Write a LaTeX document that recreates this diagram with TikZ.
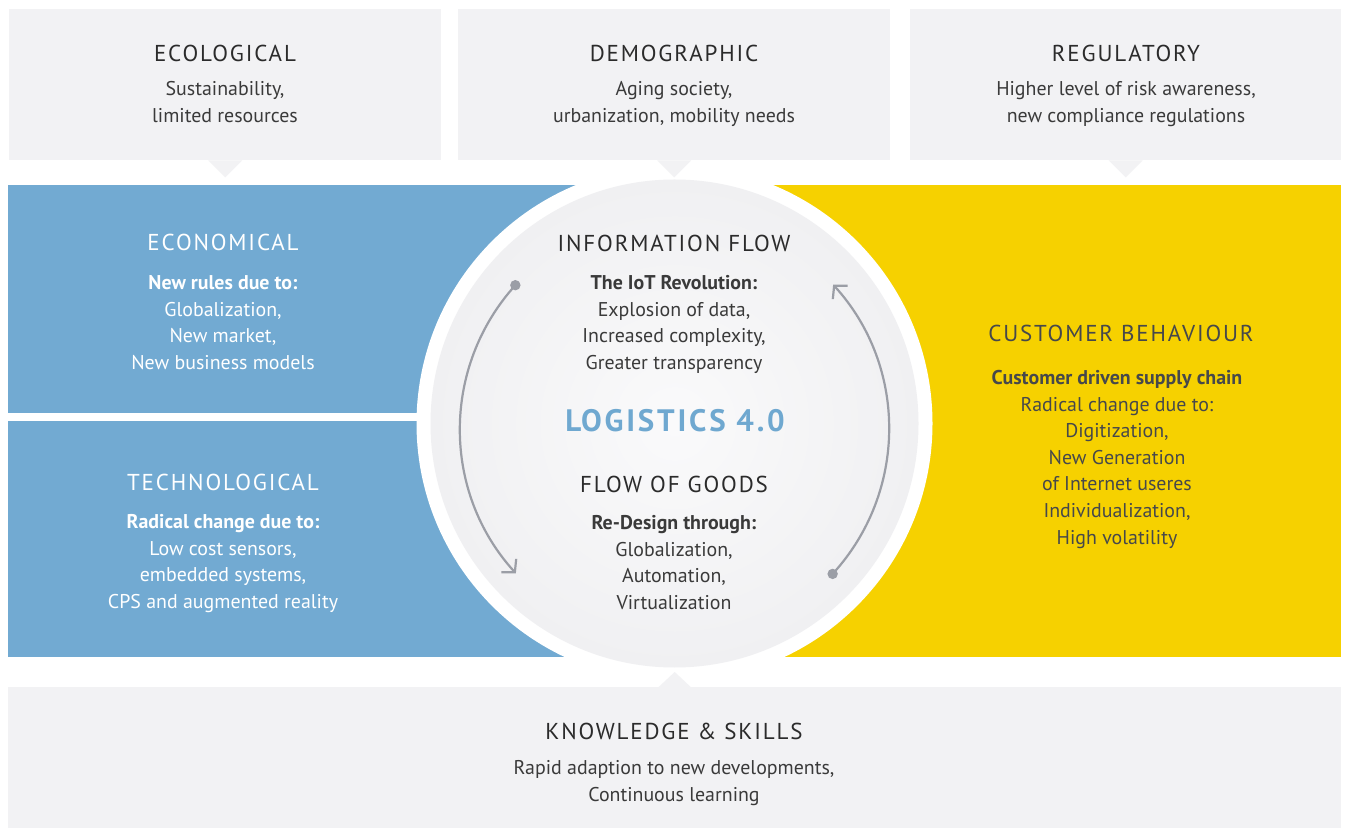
\documentclass[tikz,border=0pt]{standalone}
\usepackage{fontspec}
\setmainfont{PT Sans}
\newfontfamily\ttlfont[LetterSpace=8]{PT Sans}
\newfontfamily\logofont[LetterSpace=9]{PT Sans}
\usetikzlibrary{arrows.meta}

\definecolor{boxgray}{HTML}{F2F2F4}
\definecolor{econblue}{HTML}{72AAD2}
\definecolor{custyellow}{HTML}{F6D100}
\definecolor{logoblue}{HTML}{6FA8D0}
\definecolor{arcgray}{HTML}{9B9EA6}
\definecolor{titlegray}{HTML}{2B2B2B}
\definecolor{bodygray}{HTML}{3A3A3A}
\definecolor{yellowtext}{HTML}{46484B}
\definecolor{circlemid}{HTML}{FAFAFB}
\definecolor{circleedge}{HTML}{F0F0F2}

\tikzset{
  panel/.style={fill=#1, draw=none, inner sep=0pt, anchor=north west},
  ttl/.style={font=\ttlfont\fontsize{23}{28}\selectfont, text=titlegray, inner sep=0pt, anchor=base},
  % multi-line text blocks are placed by the baseline of their last line
  body/.style={font=\fontsize{19.9}{26.6}\selectfont, align=center, text=bodygray, inner sep=0pt, anchor=base},
  flowarc/.style={draw=arcgray, line width=2.2pt, line cap=round},
}

\begin{document}
\begin{tikzpicture}[x=1pt, y=1pt]
\useasboundingbox (0,0) rectangle (1347,828);
\fill[white] (0,0) rectangle (1347,828);

% top row of influence boxes
\node[panel=boxgray, minimum width=432pt, minimum height=151pt] (eco)  at (9,819)   {};
\node[panel=boxgray, minimum width=432pt, minimum height=151pt] (demo) at (458,819) {};
\node[panel=boxgray, minimum width=431pt, minimum height=151pt] (reg)  at (910,819) {};

% side panels
\node[panel=econblue,   minimum width=667pt, minimum height=228pt] (econ) at (8,643)   {};
\node[panel=econblue,   minimum width=667pt, minimum height=236pt] (tech) at (8,407)   {};
\node[panel=custyellow, minimum width=666pt, minimum height=472pt] (cust) at (675,643) {};

% bottom box
\node[panel=boxgray, minimum width=1333pt, minimum height=141pt] (know) at (8,141) {};

% central circle
\coordinate (ctr) at (674.5,404.5);
\fill[white] (ctr) circle[radius=258pt];
\shade[inner color=circlemid, outer color=circleedge] (ctr) circle[radius=244pt];

% pointers of the boxes towards the centre
\fill[boxgray] ([xshift=-17pt]eco.south)  -- ([xshift=17pt]eco.south)  -- ([yshift=-17pt]eco.south)  -- cycle;
\fill[boxgray] ([xshift=-17pt]demo.south) -- ([xshift=17pt]demo.south) -- ([yshift=-17pt]demo.south) -- cycle;
\fill[boxgray] ([xshift=-17pt]reg.south)  -- ([xshift=17pt]reg.south)  -- ([yshift=-17pt]reg.south)  -- cycle;
\fill[boxgray] ([xshift=-16pt]know.north) -- ([xshift=16pt]know.north) -- ([yshift=15pt]know.north) -- cycle;

% circular flow arrows
\coordinate (arcctr) at (674.5,399);
\coordinate (infostart)  at ([shift={(137.9:214.5pt)}]arcctr);
\coordinate (goodsstart) at ([shift={(-42.5:214.5pt)}]arcctr);
\draw[flowarc, -{Straight Barb[length=9pt, width=20pt, line width=2.2pt]}]
  (infostart) arc[start angle=137.9, end angle=222.3, radius=214.5pt];
\draw[flowarc, -{Straight Barb[length=9pt, width=20pt, line width=2.2pt]}]
  (goodsstart) arc[start angle=-42.5, end angle=42.3, radius=214.5pt];
\fill[arcgray] (infostart) circle[radius=5.2pt];
\fill[arcgray] (goodsstart) circle[radius=5.2pt];

% texts of the top row
\node[ttl] (ecoT) at (225,766.7) {ECOLOGICAL};
\node[body] (ecoB) at (225,705.9) {Sustainability,\\limited resources};
\node[ttl] (demoT) at (674,766.7) {DEMOGRAPHIC};
\node[body] (demoB) at (674,705.9) {Aging society,\\urbanization, mobility needs};
\node[ttl] (regT) at (1126,766.7) {REGULATORY};
\node[body] (regB) at (1126,705.9) {Higher level of risk awareness,\\new compliance regulations};

% blue panels
\node[ttl, text=white] (econT) at (223,577.7) {ECONOMICAL};
\node[body, text=white] (econB) at (223,458.7) {\textbf{New rules due to:}\\Globalization,\\New market,\\New business models};
\node[ttl, text=white] (techT) at (223,337.7) {TECHNOLOGICAL};
\node[body, text=white] (techB) at (223,219.7) {\textbf{Radical change due to:}\\Low cost sensors,\\embedded systems,\\CPS and augmented reality};

% circle contents
\node[ttl] (infoT) at (674,576.7) {INFORMATION FLOW};
\node[body] (infoB) at (674,458.7) {\textbf{The IoT Revolution:}\\Explosion of data,\\Increased complexity,\\Greater transparency};
\node[font=\logofont\bfseries\fontsize{31}{36}\selectfont, text=logoblue, inner sep=0pt, anchor=base] (logo) at (675,396.3) {LOGISTICS 4.0};
\node[ttl] (goodsT) at (674,335.7) {FLOW OF GOODS};
\node[body] (goodsB) at (674,218.7) {\textbf{Re-Design through:}\\Globalization,\\Automation,\\Virtualization};

% yellow panel
\node[ttl, text=yellowtext] (custT) at (1121,486.7) {CUSTOMER BEHAVIOUR};
\node[body, text=yellowtext] (custB) at (1117,283.9) {\textbf{Customer driven supply chain}\\Radical change due to:\\Digitization,\\New Generation\\of Internet useres\\Individualization,\\High volatility};

% bottom box
\node[ttl] (knowT) at (674,88.7) {KNOWLEDGE \& SKILLS};
\node[body] (knowB) at (674,26.9) {Rapid adaption to new developments,\\Continuous learning};
\end{tikzpicture}
\end{document}
